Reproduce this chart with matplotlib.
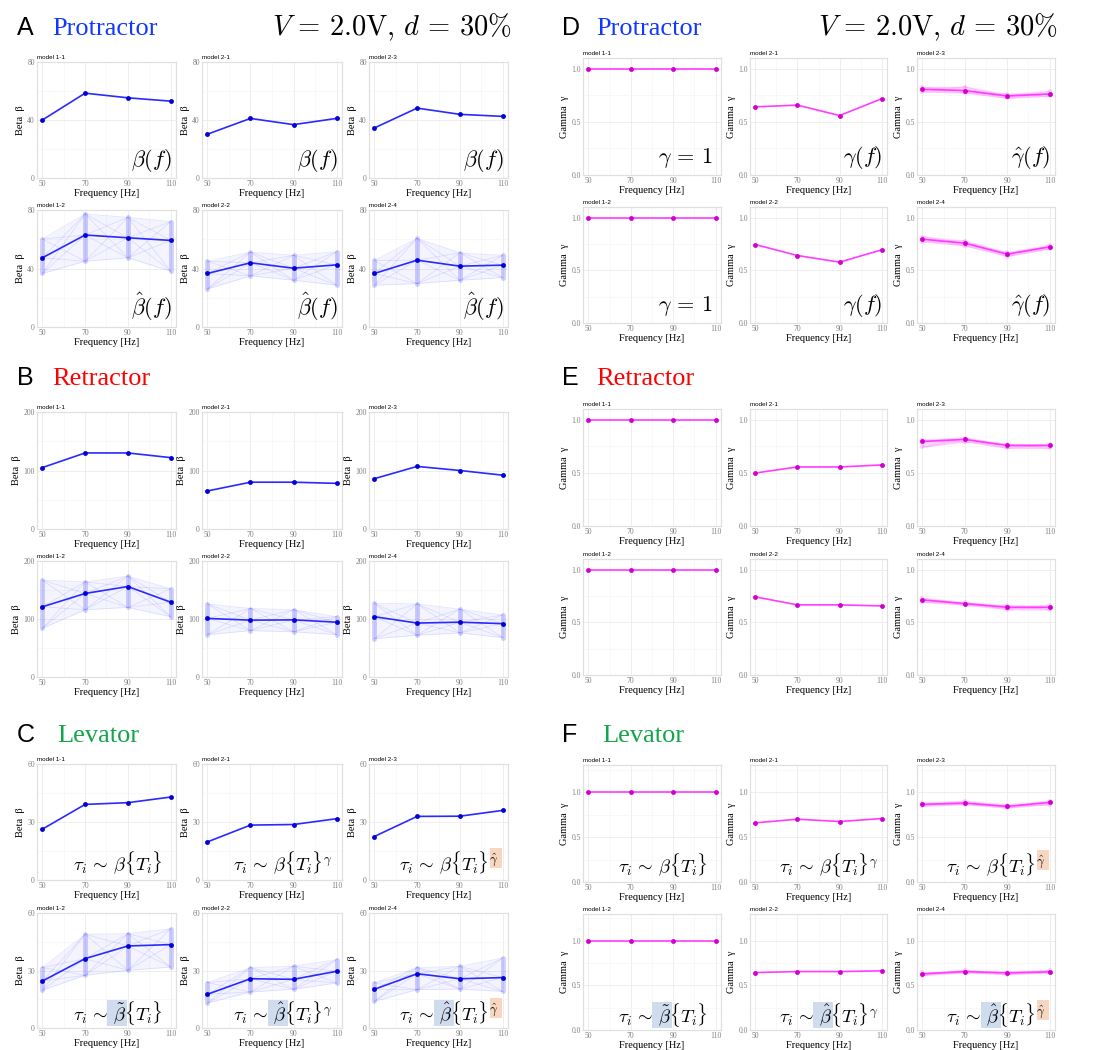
import numpy as np
import matplotlib
matplotlib.use('Agg')
import matplotlib.pyplot as plt
from matplotlib.patches import Rectangle
from matplotlib.ticker import MultipleLocator

plt.rcParams['mathtext.fontset'] = 'cm'
plt.rcParams['font.family'] = ['Liberation Serif', 'DejaVu Serif']

freqs = [50, 70, 90, 110]

# ---- beta, Protractor (A)
A_m11 = [40.0, 58.5, 55.3, 53.0]
A_m21 = [30.2, 41.1, 36.8, 41.1]
A_m23 = [34.5, 48.2, 43.9, 42.5]
A_m12 = [47.3, 62.9, 61.0, 59.2]
A_m12_lo = [36.6, 45.0, 47.3, 38.2]
A_m12_hi = [60.1, 77.3, 75.0, 72.0]
A_m22 = [36.6, 43.9, 40.2, 42.5]
A_m22_lo = [26.0, 35.0, 32.0, 28.6]
A_m22_hi = [45.0, 51.2, 49.0, 51.4]
A_m24 = [36.6, 45.7, 41.6, 42.3]
A_m24_lo = [28.6, 29.7, 32.0, 33.8]
A_m24_hi = [45.5, 60.6, 50.7, 49.0]

# ---- beta, Retractor (B)
B_m11 = [105, 130, 130, 122]
B_m21 = [65, 80, 80, 78]
B_m23 = [86, 107, 100, 92]
B_m12 = [121, 144, 156, 129]
B_m12_lo = [84, 116, 120, 104]
B_m12_hi = [167, 164, 174, 152]
B_m22 = [101, 98, 98.5, 94.5]
B_m22_lo = [73, 80, 78, 73]
B_m22_hi = [126, 118, 116, 104]
B_m24 = [104, 93, 94.5, 92]
B_m24_lo = [66, 72, 76, 68]
B_m24_hi = [127, 126, 117, 107]

# ---- beta, Levator (C)
C_m11 = [26.3, 39.1, 40.0, 42.9]
C_m21 = [19.7, 28.4, 28.7, 31.7]
C_m23 = [22.5, 32.9, 33.0, 36.0]
C_m12 = [24.5, 36.2, 42.8, 43.5]
C_m12_lo = [19.7, 27.5, 30.1, 31.8]
C_m12_hi = [31.5, 48.9, 49.2, 51.8]
C_m22 = [17.6, 25.7, 25.4, 29.6]
C_m22_lo = [13.0, 18.8, 20.2, 23.5]
C_m22_hi = [23.7, 31.5, 32.2, 35.7]
C_m24 = [20.2, 28.3, 25.7, 26.3]
C_m24_lo = [13.9, 20.0, 20.3, 19.1]
C_m24_hi = [23.5, 31.5, 32.2, 36.5]

# ---- gamma, Protractor (D)
D_m11 = [1.0, 1.0, 1.0, 1.0]
D_m21 = [0.641, 0.657, 0.559, 0.717]
D_m23 = [0.806, 0.794, 0.743, 0.762]
D_m23_lo = [0.78, 0.77, 0.72, 0.74]
D_m23_hi = [0.83, 0.83, 0.76, 0.79]
D_m12 = [1.0, 1.0, 1.0, 1.0]
D_m22 = [0.744, 0.640, 0.577, 0.694]
D_m24 = [0.795, 0.757, 0.653, 0.722]
D_m24_lo = [0.77, 0.73, 0.63, 0.70]
D_m24_hi = [0.82, 0.78, 0.67, 0.74]

# ---- gamma, Retractor (E)
E_m11 = [1.0, 1.0, 1.0, 1.0]
E_m21 = [0.498, 0.555, 0.555, 0.574]
E_m23 = [0.795, 0.814, 0.757, 0.757]
E_m23_lo = [0.74, 0.79, 0.73, 0.73]
E_m23_hi = [0.81, 0.83, 0.77, 0.77]
E_m12 = [1.0, 1.0, 1.0, 1.0]
E_m22 = [0.741, 0.665, 0.665, 0.655]
E_m24 = [0.712, 0.677, 0.642, 0.642]
E_m24_lo = [0.69, 0.66, 0.62, 0.62]
E_m24_hi = [0.73, 0.69, 0.66, 0.66]

# ---- gamma, Levator (F)
F_m11 = [1.0, 1.0, 1.0, 1.0]
F_m21 = [0.657, 0.698, 0.672, 0.705]
F_m23 = [0.862, 0.877, 0.840, 0.884]
F_m23_lo = [0.84, 0.86, 0.82, 0.86]
F_m23_hi = [0.88, 0.90, 0.86, 0.90]
F_m12 = [1.0, 1.0, 1.0, 1.0]
F_m22 = [0.644, 0.655, 0.655, 0.663]
F_m24 = [0.629, 0.655, 0.640, 0.652]
F_m24_lo = [0.61, 0.64, 0.62, 0.64]
F_m24_hi = [0.645, 0.67, 0.655, 0.67]

top_titles = ['model 1-1', 'model 2-1', 'model 2-3']
bot_titles = ['model 1-2', 'model 2-2', 'model 2-4']

W, H = 1111, 1050
fig = plt.figure(figsize=(W / 100, H / 100), dpi=100)
renderer = fig.canvas.get_renderer()

left_cols = [(37, 176), (202, 342), (369, 508)]
right_cols = [(583, 721), (750, 887), (917, 1055)]

BETA_LINE, BETA_PT = '#2a2aff', '#0000d8'
GAM_LINE, GAM_PT = '#ff3cff', '#d000d0'
BLUE_HL, ORANGE_HL = '#cfdcee', '#f7d6c2'


def make_ax(xs, ys):
    x0, x1 = xs
    y0, y1 = ys
    return fig.add_axes([x0 / W, 1 - y1 / H, (x1 - x0) / W, (y1 - y0) / H])


def style(ax, ytop, ystep, ylabel, title):
    ax.set_xlim(47.5, 112.5)
    ax.set_ylim(0, ytop)
    ax.set_xticks(freqs)
    ax.set_xticks([60, 80, 100], minor=True)
    ax.yaxis.set_major_locator(MultipleLocator(ystep))
    ax.yaxis.set_minor_locator(MultipleLocator(ystep / 2))
    ax.grid(which='major', color='#ebebeb', lw=0.6)
    ax.grid(which='minor', color='#f5f5f5', lw=0.45)
    ax.set_axisbelow(True)
    ax.tick_params(which='both', length=0, pad=1.5, labelsize=5.5, labelcolor='#808080')
    for s in ax.spines.values():
        s.set_color('#e0e0e0')
        s.set_linewidth(0.9)
    ax.set_xlabel('Frequency [Hz]', fontsize=7.5, labelpad=1)
    ax.set_ylabel(ylabel, fontsize=7.5, labelpad=2)
    ax.set_title(title, loc='left', fontsize=4.5, pad=2.5, family='Liberation Sans')


def draw_line(ax, vals, lc, pc):
    ax.plot(freqs, vals, color=lc, lw=1.2, zorder=3)
    ax.plot(freqs, vals, 'o', color=pc, ms=3.5, mew=0, zorder=4)


def draw_spread(ax, vals, lo, hi, lc, pc, band, bar_w):
    ax.fill_between(freqs, lo, hi, color=lc, alpha=band, lw=0, zorder=2)
    for i in range(len(freqs) - 1):
        fx = [freqs[i], freqs[i + 1]]
        pairs = [(lo[i], hi[i + 1]), (hi[i], lo[i + 1]), (lo[i], lo[i + 1]), (hi[i], hi[i + 1]),
                 (lo[i], vals[i + 1]), (hi[i], vals[i + 1]), (vals[i], lo[i + 1]), (vals[i], hi[i + 1])]
        for a, b in pairs:
            ax.plot(fx, [a, b], color=lc, alpha=0.12, lw=0.6, zorder=2)
    ax.vlines(freqs, lo, hi, color=lc, lw=bar_w, alpha=0.22, zorder=2, capstyle='round')
    draw_line(ax, vals, lc, pc)


def text_width(ax, s, size):
    t = ax.text(0, 0, s, fontsize=size, transform=ax.transAxes)
    w = t.get_window_extent(renderer).width
    t.remove()
    return w


def formula(ax, s, size, xr, yb, blue=None, orange=None):
    t = ax.text(xr, yb, s, transform=ax.transAxes, ha='right', va='baseline',
                fontsize=size, zorder=6)
    bb = t.get_window_extent(renderer)
    inv = ax.transAxes.inverted()
    boxes = []
    if blue:
        xa = bb.x0 + text_width(ax, blue[0], size) - 1
        xb = bb.x0 + text_width(ax, blue[1], size) + 1
        boxes.append((xa, xb, bb.y0 + 1, bb.y1 - 1, BLUE_HL))
    if orange:
        xa = bb.x0 + text_width(ax, orange, size) + 1
        xb = bb.x1 + 3
        boxes.append((xa, xb, bb.y1 - 0.7 * bb.height, bb.y1 + 1, ORANGE_HL))
    for xa, xb, ya, yb2, c in boxes:
        (ax0, ay0), (ax1, ay1) = inv.transform([(xa, ya), (xb, yb2)])
        ax.add_patch(Rectangle((ax0, ay0), ax1 - ax0, ay1 - ay0, transform=ax.transAxes,
                               facecolor=c, edgecolor='none', zorder=5, clip_on=False))


def header(x_letter, x_name, base, letter, name, color, with_cond, x_cond):
    yf = 1 - base / H
    fig.text(x_letter / W, yf, letter, fontsize=18, family='Liberation Sans', va='baseline')
    fig.text(x_name / W, yf, name, fontsize=19, color=color, va='baseline')
    if with_cond:
        fig.text(x_cond / W, yf, r'$V\, =\, 2.0\mathrm{V},\, d\, =\, 30\%$', fontsize=20.5,
                 ha='right', va='baseline')


# ---------------- beta sections (left half)
beta_sections = [
    ('A', 'Protractor', '#1238ff', 35, [(62, 178), (210, 327)], 80, 40,
     [A_m11, A_m21, A_m23],
     [(A_m12, A_m12_lo, A_m12_hi), (A_m22, A_m22_lo, A_m22_hi), (A_m24, A_m24_lo, A_m24_hi)]),
    ('B', 'Retractor', '#ff0000', 385, [(412, 529), (561, 677)], 200, 100,
     [B_m11, B_m21, B_m23],
     [(B_m12, B_m12_lo, B_m12_hi), (B_m22, B_m22_lo, B_m22_hi), (B_m24, B_m24_lo, B_m24_hi)]),
    ('C', 'Levator', '#12a54a', 742, [(764, 880), (913, 1028)], 60, 30,
     [C_m11, C_m21, C_m23],
     [(C_m12, C_m12_lo, C_m12_hi), (C_m22, C_m22_lo, C_m22_hi), (C_m24, C_m24_lo, C_m24_hi)]),
]

gamma_sections = [
    ('D', 'Protractor', '#1238ff', 35, [(58, 175), (207, 323)], 1.1,
     [D_m11, D_m21, (D_m23, D_m23_lo, D_m23_hi)],
     [D_m12, D_m22, (D_m24, D_m24_lo, D_m24_hi)]),
    ('E', 'Retractor', '#ff0000', 385, [(409, 526), (559, 675)], 1.1,
     [E_m11, E_m21, (E_m23, E_m23_lo, E_m23_hi)],
     [E_m12, E_m22, (E_m24, E_m24_lo, E_m24_hi)]),
    ('F', 'Levator', '#12a54a', 742, [(765, 882), (914, 1030)], 1.3,
     [F_m11, F_m21, (F_m23, F_m23_lo, F_m23_hi)],
     [F_m12, F_m22, (F_m24, F_m24_lo, F_m24_hi)]),
]

beta_axes = {}
for letter, name, col, base, rows, ytop, ystep, top, bot in beta_sections:
    header(17, 52 if letter != 'C' else 57, base, letter, name, col, letter == 'A', 512)
    for j in range(3):
        ax = make_ax(left_cols[j], rows[0])
        style(ax, ytop, ystep, 'Beta  β', top_titles[j])
        draw_line(ax, top[j], BETA_LINE, BETA_PT)
        beta_axes[(letter, 0, j)] = ax
        ax = make_ax(left_cols[j], rows[1])
        style(ax, ytop, ystep, 'Beta  β', bot_titles[j])
        m, lo, hi = bot[j]
        draw_spread(ax, m, lo, hi, BETA_LINE, BETA_PT, 0.05, 3.5)
        beta_axes[(letter, 1, j)] = ax

gamma_axes = {}
for letter, name, col, base, rows, ytop, top, bot in gamma_sections:
    header(562, 596 if letter != 'F' else 602, base, letter, name, col, letter == 'D', 1058)
    for r, (panels, titles) in enumerate([(top, top_titles), (bot, bot_titles)]):
        for j in range(3):
            ax = make_ax(right_cols[j], rows[r])
            style(ax, ytop, 0.5, 'Gamma  γ', titles[j])
            p = panels[j]
            if isinstance(p, tuple):
                draw_spread(ax, p[0], p[1], p[2], GAM_LINE, GAM_PT, 0.22, 3)
            else:
                draw_line(ax, p, GAM_LINE, GAM_PT)
            gamma_axes[(letter, r, j)] = ax

# ---------------- formula annotations
for j in range(3):
    formula(beta_axes[('A', 0, j)], r'$\beta(f)$', 16, 0.97, 0.10)
    formula(beta_axes[('A', 1, j)], r'$\hat{\beta}(f)$', 16, 0.97, 0.10)

d_notes = [(r'$\gamma\, =\, 1$', 0.94), (r'$\gamma(f)$', 0.97), (r'$\hat{\gamma}(f)$', 0.97)]
for j, (s, xr) in enumerate(d_notes):
    formula(gamma_axes[('D', 0, j)], s, 16, xr, 0.10)
    formula(gamma_axes[('D', 1, j)], s, 16, xr, 0.10)

for axes, key in [(beta_axes, 'C'), (gamma_axes, 'F')]:
    formula(axes[(key, 0, 0)], r'$\tau_i \,\sim\, \beta\{T_i\}$', 13.5, 0.90, 0.085)
    formula(axes[(key, 0, 1)], r'$\tau_i \,\sim\, \beta\{T_i\}^{\gamma}$', 13.5, 0.935, 0.085)
    formula(axes[(key, 0, 2)], r'$\tau_i \,\sim\, \beta\{T_i\}^{\hat{\gamma}}$', 13.5, 0.935, 0.085,
            orange=r'$\tau_i \,\sim\, \beta\{T_i\}$')
    formula(axes[(key, 1, 0)], r'$\tau_i \,\sim\, \tilde{\beta}\{T_i\}$', 13.5, 0.90, 0.07,
            blue=(r'$\tau_i \,\sim\,$', r'$\tau_i \,\sim\, \tilde{\beta}$'))
    formula(axes[(key, 1, 1)], r'$\tau_i \,\sim\, \hat{\beta}\{T_i\}^{\gamma}$', 13.5, 0.935, 0.07,
            blue=(r'$\tau_i \,\sim\,$', r'$\tau_i \,\sim\, \hat{\beta}$'))
    formula(axes[(key, 1, 2)], r'$\tau_i \,\sim\, \hat{\beta}\{T_i\}^{\hat{\gamma}}$', 13.5, 0.935, 0.07,
            blue=(r'$\tau_i \,\sim\,$', r'$\tau_i \,\sim\, \hat{\beta}$'),
            orange=r'$\tau_i \,\sim\, \hat{\beta}\{T_i\}$')

fig.savefig('out.png', dpi=100)
